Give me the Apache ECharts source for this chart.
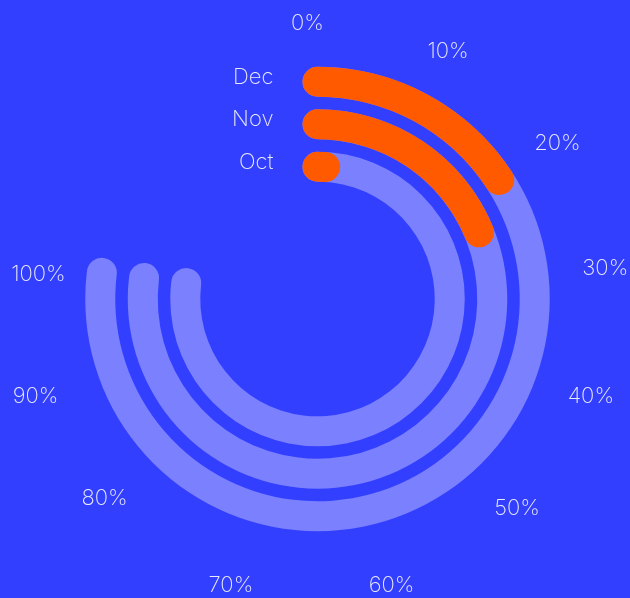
<!DOCTYPE html>
<html>
<head>
<meta charset="utf-8">
<script src="https://cdn.jsdelivr.net/npm/echarts@6/dist/echarts.min.js"></script>
<style>
  html, body { margin: 0; padding: 0; background: #333fff; }
  #main { width: 630px; height: 598px; }
</style>
</head>
<body>
<div id="main"></div>
<script>
// months from inner ring to outer ring
var months = ['Oct', 'Nov', 'Dec'];
var progress = [1.2, 24.4, 20.5];
var track = [100, 100, 100];
var maxPercent = 100;

var textColor = '#e8eaff';
var fontFamily = 'Inter, "Noto Sans", sans-serif';
var center = [317.5, 299];
var radius = [111, 238.5];

// per-label padding [top, right, bottom, left] to nudge the percent labels into place
var labelPad = {
    0: [0, 20, 28, 0],
    10: [0, 0, 27, 0],
    20: [0, 0, 10, 22],
    30: [0, 0, 4, 30],
    40: [3, 0, 0, 29],
    50: [21, 0, 0, 20],
    60: [46, 0, 0, 35],
    70: [46, 60, 0, 0],
    80: [11, 33, 0, 0],
    90: [3, 38, 0, 0],
    100: [8, 17, 0, 0]
};
var baseText = { color: textColor, fontFamily: fontFamily, fontWeight: 200, fontSize: 22 };
var rich = {};
Object.keys(labelPad).forEach(function (k) {
    rich['p' + k] = Object.assign({ padding: labelPad[k] }, baseText);
});

// two identical polars so the track and the progress bar can both be 30px wide
var myChart = echarts.init(document.getElementById('main'));
var option = {
    backgroundColor: '#333fff',
    polar: [
        { center: center, radius: radius },
        { center: center, radius: radius }
    ],
    angleAxis: [{
        polarIndex: 0,
        type: 'value',
        min: 0,
        max: 130,
        interval: 10,
        startAngle: 90,
        clockwise: true,
        axisLine: { show: false },
        axisTick: { show: false },
        splitLine: { show: false },
        axisLabel: Object.assign({
            margin: -2,
            rich: rich,
            formatter: function (v) {
                return v <= maxPercent ? '{p' + v + '|' + v + '%}' : '';
            }
        }, baseText)
    }, {
        polarIndex: 1,
        type: 'value',
        min: 0,
        max: 130,
        startAngle: 90,
        clockwise: true,
        show: false
    }],
    radiusAxis: [{
        polarIndex: 0,
        type: 'category',
        data: months,
        axisLine: { show: false },
        axisTick: { show: false },
        splitLine: { show: false },
        axisLabel: Object.assign({
            interval: 0,
            margin: 44,
            rich: { m: Object.assign({ padding: [0, 0, 9, 0] }, baseText) },
            formatter: function (v) {
                return '{m|' + v + '}';
            }
        }, baseText)
    }, {
        polarIndex: 1,
        type: 'category',
        data: months,
        show: false
    }],
    series: [{
        name: 'track',
        type: 'bar',
        coordinateSystem: 'polar',
        polarIndex: 0,
        data: track,
        barWidth: 30,
        roundCap: true,
        silent: true,
        itemStyle: { color: '#7b80ff' }
    }, {
        name: 'progress',
        type: 'bar',
        coordinateSystem: 'polar',
        polarIndex: 1,
        data: progress,
        barWidth: 30,
        roundCap: true,
        itemStyle: { color: '#ff5a00' }
    }]
};
myChart.setOption(option);
</script>
</body>
</html>
